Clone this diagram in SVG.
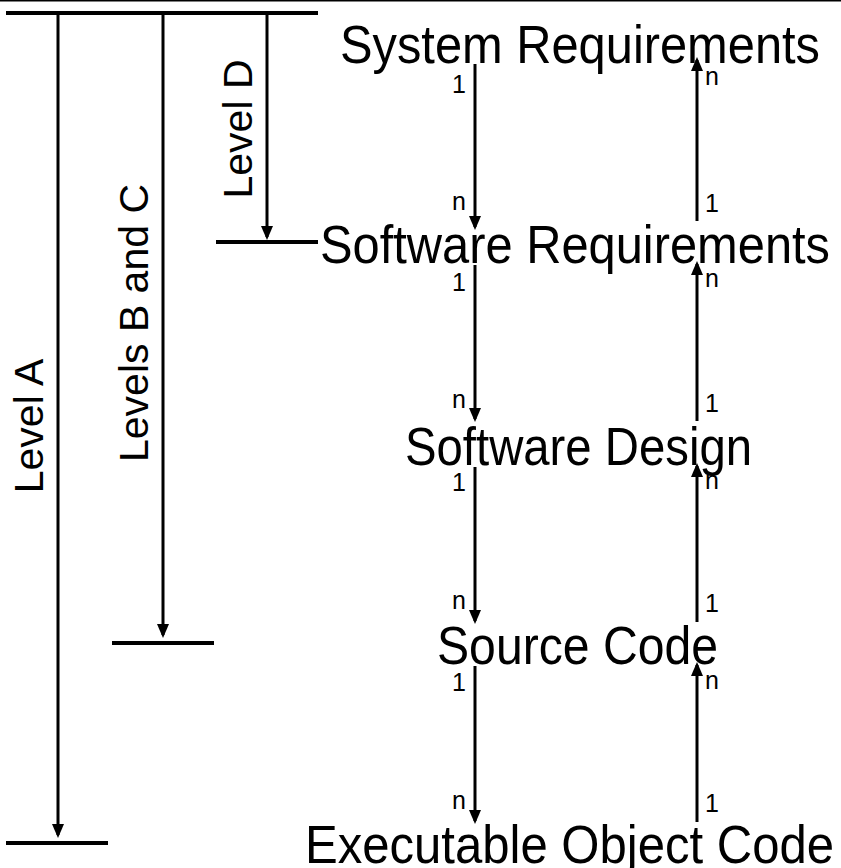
<svg xmlns="http://www.w3.org/2000/svg" width="841" height="868" viewBox="0 0 841 868">
  <defs>
    <style>
      .node { font-family: "Liberation Sans", Arial, sans-serif; font-size: 53px; fill: #000; }
      .lvl { font-family: "Liberation Sans", Arial, sans-serif; font-size: 41px; fill: #000; }
      .card { font-family: "Liberation Sans", Arial, sans-serif; font-size: 25px; fill: #000; }
      .bar { stroke: #000; stroke-width: 4; fill: none; }
      .link { stroke: #000; stroke-width: 3; fill: none; }
    </style>
    <marker id="head" markerUnits="userSpaceOnUse" markerWidth="14" markerHeight="12" refX="11" refY="6" orient="auto">
      <path d="M0,0 L14,6 L0,12 z" fill="#000"/>
    </marker>
  </defs>
  <rect width="841" height="868" fill="#fff"/>
  <line x1="0" y1="0.75" x2="841" y2="0.75" stroke="#000" stroke-width="1.5"/>

  <!-- certification-level scopes -->
  <g id="scope-top">
    <line class="bar" x1="6" y1="13" x2="318" y2="13"/>
  </g>
  <g id="level-a">
    <line class="link" x1="58" y1="13" x2="58" y2="835" marker-end="url(#head)"/>
    <line class="bar" x1="6" y1="843" x2="108" y2="843"/>
    <text class="lvl" transform="translate(43,426) rotate(-90)" text-anchor="middle">Level A</text>
  </g>
  <g id="level-bc">
    <line class="link" x1="163" y1="13" x2="163" y2="635" marker-end="url(#head)"/>
    <line class="bar" x1="112" y1="643" x2="214" y2="643"/>
    <text class="lvl" transform="translate(148,323) rotate(-90)" text-anchor="middle">Levels B and C</text>
  </g>
  <g id="level-d">
    <line class="link" x1="267" y1="13" x2="267" y2="237" marker-end="url(#head)"/>
    <line class="bar" x1="216" y1="242" x2="318" y2="242"/>
    <text class="lvl" transform="translate(252,129) rotate(-90)" text-anchor="middle">Level D</text>
  </g>

  <!-- artefacts -->
  <g id="system-requirements">
    <text class="node" x="340" y="63" textLength="480" lengthAdjust="spacingAndGlyphs">System Requirements</text>
  </g>
  <g id="software-requirements">
    <text class="node" x="320" y="263" textLength="510" lengthAdjust="spacingAndGlyphs">Software Requirements</text>
  </g>
  <g id="software-design">
    <text class="node" x="405" y="465" textLength="347" lengthAdjust="spacingAndGlyphs">Software Design</text>
  </g>
  <g id="source-code">
    <text class="node" x="437" y="664" textLength="281" lengthAdjust="spacingAndGlyphs">Source Code</text>
  </g>
  <g id="executable-object-code">
    <text class="node" x="305" y="863" textLength="529" lengthAdjust="spacingAndGlyphs">Executable Object Code</text>
  </g>

  <!-- traceability links: down = decomposition, up = trace back -->
  <g id="connectors">
    <line class="link" x1="475" y1="64" x2="475" y2="227" marker-end="url(#head)"/>
    <line class="link" x1="697" y1="221" x2="697" y2="60" marker-end="url(#head)"/>
    <line class="link" x1="475" y1="265" x2="475" y2="419" marker-end="url(#head)"/>
    <line class="link" x1="697" y1="421" x2="697" y2="264" marker-end="url(#head)"/>
    <line class="link" x1="475" y1="467" x2="475" y2="621" marker-end="url(#head)"/>
    <line class="link" x1="697" y1="622" x2="697" y2="466" marker-end="url(#head)"/>
    <line class="link" x1="475" y1="666" x2="475" y2="821" marker-end="url(#head)"/>
    <line class="link" x1="697" y1="822" x2="697" y2="665" marker-end="url(#head)"/>
  </g>

  <!-- multiplicities -->
  <g id="multiplicities">
    <text class="card" x="466" y="93" text-anchor="end">1</text>
    <text class="card" x="466" y="210" text-anchor="end">n</text>
    <text class="card" x="705" y="85">n</text>
    <text class="card" x="705" y="212">1</text>

    <text class="card" x="466" y="291" text-anchor="end">1</text>
    <text class="card" x="466" y="408" text-anchor="end">n</text>
    <text class="card" x="705" y="287">n</text>
    <text class="card" x="705" y="412">1</text>

    <text class="card" x="466" y="491" text-anchor="end">1</text>
    <text class="card" x="466" y="609" text-anchor="end">n</text>
    <text class="card" x="705" y="489">n</text>
    <text class="card" x="705" y="612">1</text>

    <text class="card" x="466" y="691" text-anchor="end">1</text>
    <text class="card" x="466" y="809" text-anchor="end">n</text>
    <text class="card" x="705" y="689">n</text>
    <text class="card" x="705" y="812">1</text>
  </g>
</svg>
